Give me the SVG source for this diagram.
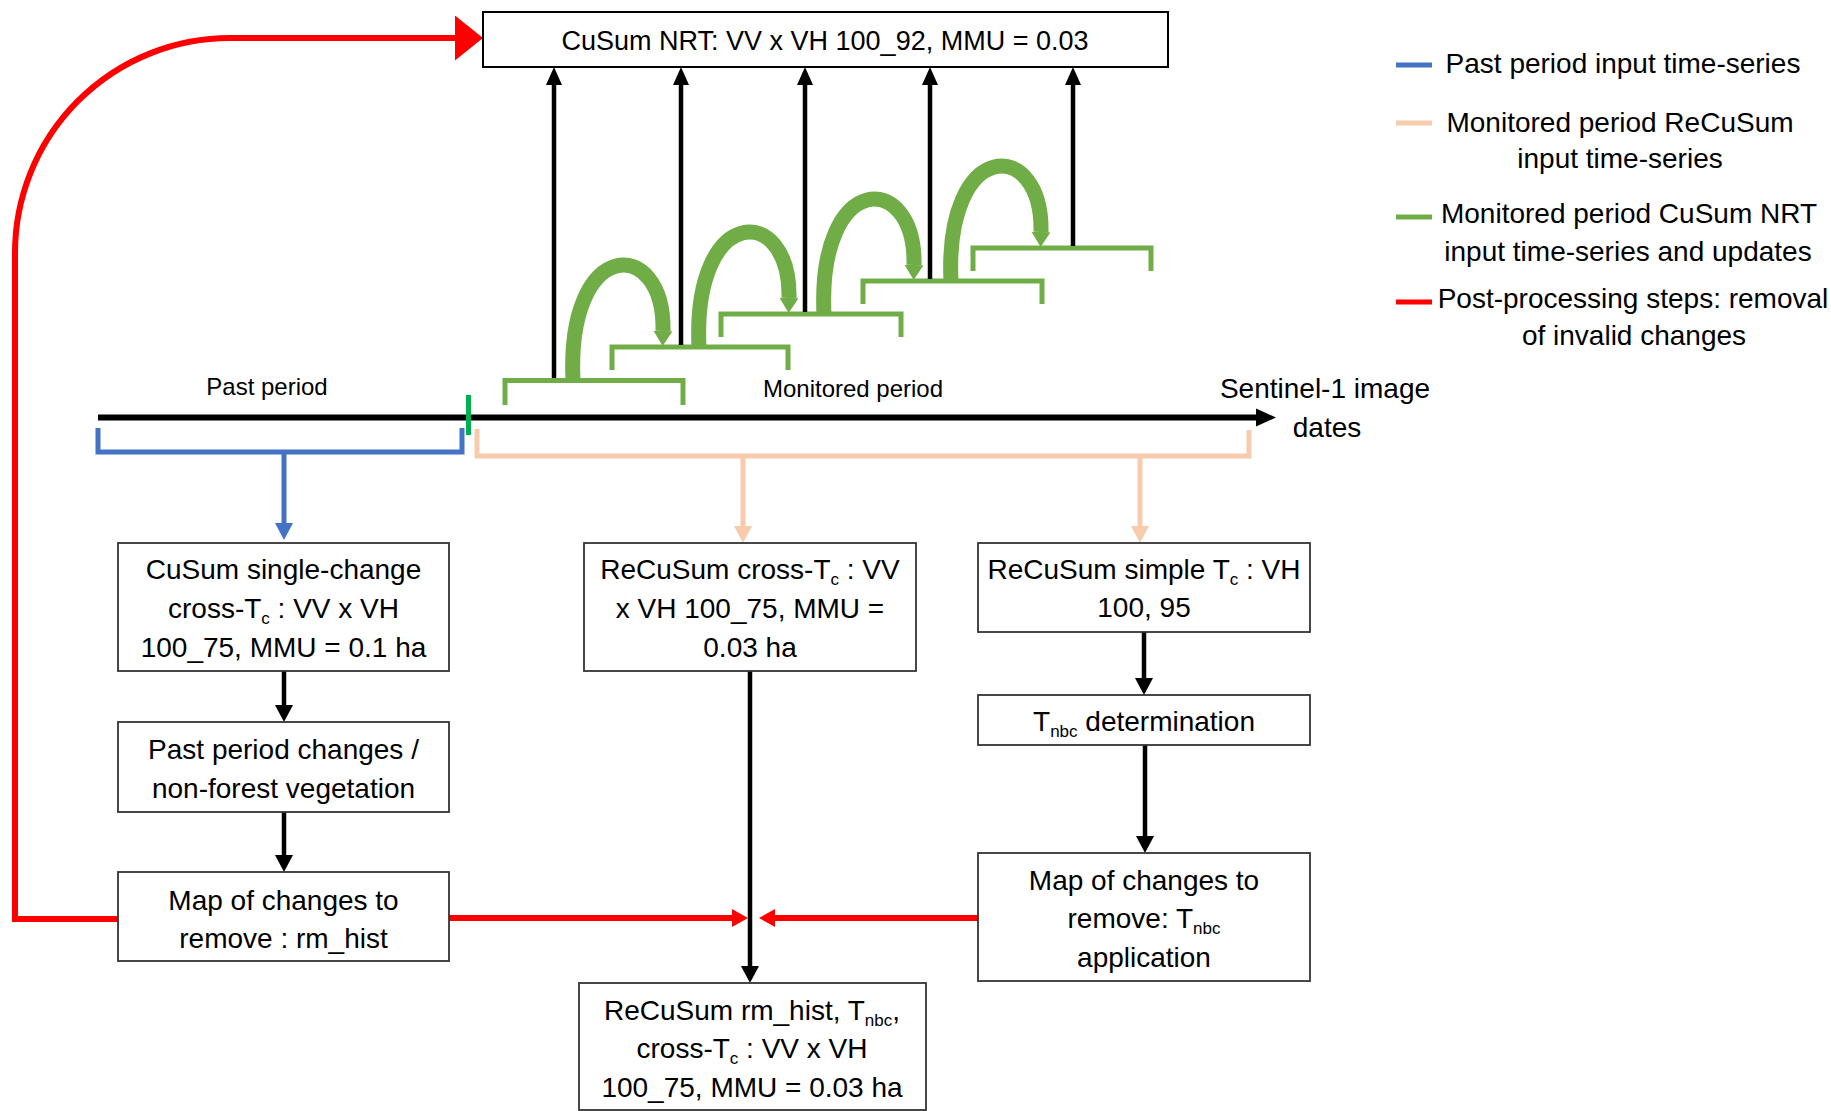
<svg xmlns="http://www.w3.org/2000/svg" width="1831" height="1111" viewBox="0 0 1831 1111">
<style>
text{font-family:"Liberation Sans",Arial,sans-serif;fill:#000;text-anchor:middle}
.t{font-size:28px}
.tt{font-size:27px}
.s{font-size:24px}
.sub{font-size:17px}
.box{fill:#fff;stroke:#333;stroke-width:1.8}
.blk{stroke:#000;stroke-width:4.5;fill:none}
.red{stroke:#f00;stroke-width:6;fill:none}
.grn{stroke:#70ad47;stroke-width:5;fill:none}
.arc{stroke:#70ad47;stroke-width:15;fill:none}
.blue{stroke:#4472c4;stroke-width:5;fill:none}
.peach{stroke:#f8cbad;stroke-width:5;fill:none}
.leg{stroke-width:5}
</style>
<defs>
<marker id="ahB" markerUnits="userSpaceOnUse" markerWidth="18" markerHeight="16" refX="0" refY="8" orient="auto"><path d="M0,0 L18,8 L0,16 z" fill="#000"/></marker>
<marker id="ahBd" markerUnits="userSpaceOnUse" markerWidth="17" markerHeight="18" refX="0" refY="9" orient="auto"><path d="M0,0 L17,9 L0,18 z" fill="#000"/></marker>
<marker id="ahBlue" markerUnits="userSpaceOnUse" markerWidth="17" markerHeight="18" refX="0" refY="9" orient="auto"><path d="M0,0 L17,9 L0,18 z" fill="#4472c4"/></marker>
<marker id="ahPeach" markerUnits="userSpaceOnUse" markerWidth="17" markerHeight="18" refX="0" refY="9" orient="auto"><path d="M0,0 L17,9 L0,18 z" fill="#f8cbad"/></marker>
<marker id="ahRedBig" markerUnits="userSpaceOnUse" markerWidth="28" markerHeight="45" refX="0" refY="22.5" orient="auto"><path d="M0,0 L28,22.5 L0,45 z" fill="#f00"/></marker>
<marker id="ahRed" markerUnits="userSpaceOnUse" markerWidth="16" markerHeight="18" refX="0" refY="9" orient="auto"><path d="M0,0 L16,9 L0,18 z" fill="#f00"/></marker>
<marker id="ahGrn" markerUnits="userSpaceOnUse" markerWidth="15" markerHeight="19" refX="0" refY="9.5" orient="auto"><path d="M0,0 L15,9.5 L0,19 z" fill="#70ad47"/></marker>
<path id="arcShape" d="M573,381 C566,236 665,236 663,331"/>
</defs>

<!-- timeline -->
<g id="timeline">
<line x1="98" y1="417.5" x2="1258" y2="417.5" stroke="#000" stroke-width="6"/>
<polygon points="1256,408.5 1276,417.5 1256,426.5" fill="#000"/>
<line x1="468.5" y1="395" x2="468.5" y2="435" stroke="#00b050" stroke-width="5"/>
<text class="s" x="267" y="395">Past period</text>
<text class="s" x="853" y="397">Monitored period</text>
<text class="t" x="1325" y="398">Sentinel-1 image</text>
<text class="t" x="1327" y="437">dates</text>
</g>

<!-- period brackets -->
<g id="brackets">
<path class="blue" d="M98,428 V452 H462 V428"/>
<path class="peach" d="M477,429 V456 H1249 V430"/>
<path class="grn" d="M505,405 V380.5 H683 V405"/>
<path class="grn" d="M612,370 V347 H788 V370"/>
<path class="grn" d="M721,337 V314 H901 V337"/>
<path class="grn" d="M863,304 V281 H1042 V304"/>
<path class="grn" d="M973,271 V248 H1151 V271"/>
</g>

<!-- green update arcs -->
<g id="updates">
<use href="#arcShape" class="arc" marker-end="url(#ahGrn)"/>
<use href="#arcShape" class="arc" marker-end="url(#ahGrn)" transform="translate(126,-33)"/>
<use href="#arcShape" class="arc" marker-end="url(#ahGrn)" transform="translate(251,-66)"/>
<use href="#arcShape" class="arc" marker-end="url(#ahGrn)" transform="translate(378,-99)"/>
</g>

<!-- connectors -->
<g id="connectors">
<line class="blk" x1="554" y1="378" x2="554" y2="85" marker-end="url(#ahB)"/>
<line class="blk" x1="681" y1="345" x2="681" y2="85" marker-end="url(#ahB)"/>
<line class="blk" x1="805" y1="312" x2="805" y2="85" marker-end="url(#ahB)"/>
<line class="blk" x1="930" y1="279" x2="930" y2="85" marker-end="url(#ahB)"/>
<line class="blk" x1="1073" y1="246" x2="1073" y2="85" marker-end="url(#ahB)"/>
<line class="blue" x1="284" y1="452" x2="284" y2="523" marker-end="url(#ahBlue)"/>
<line class="peach" x1="743" y1="456" x2="743" y2="526" marker-end="url(#ahPeach)"/>
<line class="peach" x1="1140" y1="456" x2="1140" y2="526" marker-end="url(#ahPeach)"/>
<line class="blk" x1="284" y1="671" x2="284" y2="705" marker-end="url(#ahBd)"/>
<line class="blk" x1="284" y1="812" x2="284" y2="855" marker-end="url(#ahBd)"/>
<line class="blk" x1="1144" y1="632" x2="1144" y2="678" marker-end="url(#ahBd)"/>
<line class="blk" x1="1145" y1="745" x2="1145" y2="836" marker-end="url(#ahBd)"/>
<line class="blk" x1="750" y1="671" x2="750" y2="966" marker-end="url(#ahBd)"/>
<path class="red" d="M118,919 H15 V253 A215,215 0 0 1 230,38 H455" marker-end="url(#ahRedBig)"/>
<line class="red" x1="449" y1="918" x2="732" y2="918" marker-end="url(#ahRed)"/>
<line class="red" x1="978" y1="918" x2="775" y2="918" marker-end="url(#ahRed)"/>
</g>

<!-- nodes -->
<g id="nrt">
<rect x="483" y="12" width="685" height="55" fill="#fff" stroke="#000" stroke-width="2"/>
<text class="tt" x="825" y="50">CuSum NRT: VV x VH 100_92, MMU = 0.03</text>
</g>

<g id="cusum-single">
<rect class="box" x="118" y="543" width="331" height="128"/>
<text class="t" x="283.5" y="579">CuSum single-change</text>
<text class="t" x="283.5" y="618">cross-T<tspan class="sub" dy="6">c</tspan><tspan dy="-6"> : VV x VH</tspan></text>
<text class="t" x="283.5" y="657">100_75, MMU = 0.1 ha</text>
</g>

<g id="recusum-cross">
<rect class="box" x="584" y="543" width="332" height="128"/>
<text class="t" x="750" y="579">ReCuSum cross-T<tspan class="sub" dy="6">c</tspan><tspan dy="-6"> : VV</tspan></text>
<text class="t" x="750" y="618">x VH 100_75, MMU =</text>
<text class="t" x="750" y="657">0.03 ha</text>
</g>

<g id="recusum-simple">
<rect class="box" x="978" y="543" width="332" height="89"/>
<text class="t" x="1144" y="579">ReCuSum simple T<tspan class="sub" dy="6">c</tspan><tspan dy="-6"> : VH</tspan></text>
<text class="t" x="1144" y="617">100, 95</text>
</g>

<g id="tnbc-det">
<rect class="box" x="978" y="695" width="332" height="50"/>
<text class="t" x="1144" y="731">T<tspan class="sub" dy="6">nbc</tspan><tspan dy="-6"> determination</tspan></text>
</g>

<g id="past-changes">
<rect class="box" x="118" y="722" width="331" height="90"/>
<text class="t" x="283.5" y="759">Past period changes /</text>
<text class="t" x="283.5" y="798">non-forest vegetation</text>
</g>

<g id="rm-hist">
<rect class="box" x="118" y="872" width="331" height="89"/>
<text class="t" x="283.5" y="910">Map of changes to</text>
<text class="t" x="283.5" y="948">remove : rm_hist</text>
</g>

<g id="tnbc-map">
<rect class="box" x="978" y="853" width="332" height="128"/>
<text class="t" x="1144" y="890">Map of changes to</text>
<text class="t" x="1144" y="928">remove: T<tspan class="sub" dy="6">nbc</tspan></text>
<text class="t" x="1144" y="967">application</text>
</g>

<g id="final">
<rect class="box" x="579" y="983" width="347" height="127"/>
<text class="t" x="752" y="1020">ReCuSum rm_hist, T<tspan class="sub" dy="6">nbc</tspan><tspan dy="-6">,</tspan></text>
<text class="t" x="752" y="1058">cross-T<tspan class="sub" dy="6">c</tspan><tspan dy="-6"> : VV x VH</tspan></text>
<text class="t" x="752" y="1097">100_75, MMU = 0.03 ha</text>
</g>

<!-- legend -->
<g id="legend">
<line class="leg" x1="1396" y1="65" x2="1432" y2="65" stroke="#4472c4"/>
<text class="t" x="1623" y="73">Past period input time-series</text>
<line class="leg" x1="1396" y1="123" x2="1432" y2="123" stroke="#f8cbad"/>
<text class="t" x="1620" y="132">Monitored period ReCuSum</text>
<text class="t" x="1620" y="168">input time-series</text>
<line class="leg" x1="1396" y1="217" x2="1432" y2="217" stroke="#70ad47"/>
<text class="t" x="1629" y="223">Monitored period CuSum NRT</text>
<text class="t" x="1628" y="261">input time-series and updates</text>
<line class="leg" x1="1396" y1="302" x2="1432" y2="302" stroke="#f00"/>
<text class="t" x="1633" y="308">Post-processing steps: removal</text>
<text class="t" x="1634" y="345">of invalid changes</text>
</g>
</svg>
